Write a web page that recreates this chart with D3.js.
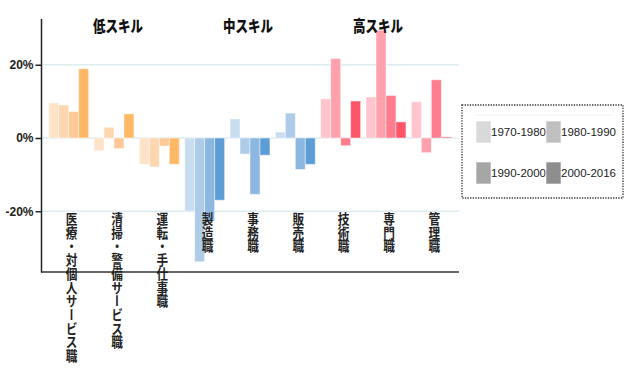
<!DOCTYPE html>
<html>
<head>
<meta charset="utf-8">
<script src="https://cdn.jsdelivr.net/npm/d3@7"></script>
<style>
  body { margin: 0; background: #fff; }
  svg { display: block; font-family: "Noto Sans CJK JP", "Noto Sans", sans-serif; }
  .ytick text { font-size: 12px; font-weight: bold; fill: #222; }
</style>
</head>
<body>
<div id="chart"></div>
<script>
// Employment share change by occupation and period (%)
const categories = ["医療・対個人サービス職", "清掃・警備サービス職", "運転・手仕事職",
  "製造職", "事務職", "販売職", "技術職", "専門職", "管理職"];
const skillOf = ["low", "low", "low", "mid", "mid", "mid", "high", "high", "high"];
const skillTitles = [
  { key: "low", label: "低スキル", nudge: 4 },
  { key: "mid", label: "中スキル", nudge: -2 },
  { key: "high", label: "高スキル", nudge: -8 }
];
const periods = ["1970-1980", "1980-1990", "1990-2000", "2000-2016"];
const v1970 = [9.6, -3.5, -7.2, -20.0, 5.2, 1.6, 10.7, 11.2, 9.9];
const v1980 = [9.0, 2.9, -7.9, -33.8, -4.4, 6.8, 21.7, 29.4, -4.0];
const v1990 = [7.2, -2.9, -2.2, -22.7, -15.4, -8.6, -2.1, 11.6, 15.9];
const v2000 = [18.9, 6.6, -7.2, -17.0, -4.7, -7.2, 10.1, 4.4, 0.3];
const yTicks = [20, 0, -20];

const series = [v1970, v1980, v1990, v2000];
const palette = {
  low: ["#fee3c9", "#fed6af", "#fec897", "#ffb966"],
  mid: ["#c9ddf0", "#aecbe8", "#8cb7e0", "#5d9dd6"],
  high: ["#ffc4cc", "#ffa1ac", "#ff7d8c", "#ff5568"]
};
const legendGrays = ["#d9d9d9", "#c0c0c0", "#a6a6a6", "#8e8e8e"];

const W = 635, H = 377;
const svg = d3.select("#chart").append("svg").attr("width", W).attr("height", H);

const x = d3.scaleBand().domain(categories).range([46, 454]).paddingInner(0.12).paddingOuter(0.06);
const xs = d3.scaleBand().domain(periods).range([0, x.bandwidth()]);
const y = d3.scaleLinear().domain([-36.6, 32.5]).range([272, 19]);

// gridlines
svg.append("g").selectAll("line").data(yTicks).join("line")
  .attr("x1", 42).attr("x2", 459)
  .attr("y1", d => y(d)).attr("y2", d => y(d))
  .attr("stroke", "#dcecf0").attr("stroke-width", 1.5);

// bars
const rows = categories.map((c, i) => ({ c, i, vals: series.map(s => s[i]) }));
const g = svg.append("g").selectAll("g").data(rows).join("g")
  .attr("transform", d => `translate(${x(d.c)},0)`);
g.selectAll("rect").data(d => d.vals.map((v, k) => ({ v, k, skill: skillOf[d.i] }))).join("rect")
  .attr("x", d => xs(periods[d.k]))
  .attr("width", xs.bandwidth())
  .attr("y", d => y(Math.max(0, d.v)))
  .attr("height", d => Math.abs(y(d.v) - y(0)))
  .attr("fill", d => palette[d.skill][d.k])
  .attr("stroke", "rgba(255,255,255,0.45)").attr("stroke-width", 1);

// axes
svg.append("line").attr("x1", 41.5).attr("x2", 41.5).attr("y1", 19).attr("y2", 272.5)
  .attr("stroke", "#222").attr("stroke-width", 1.5);
svg.append("line").attr("x1", 41).attr("x2", 459).attr("y1", 272).attr("y2", 272)
  .attr("stroke", "#333").attr("stroke-width", 1.5);

const yAxis = svg.append("g").attr("class", "ytick").attr("transform", "translate(41.5,0)")
  .call(d3.axisLeft(y).tickValues(yTicks).tickFormat(d => d + "%").tickSize(6).tickPadding(2));
yAxis.select(".domain").remove();
yAxis.selectAll(".tick line").attr("stroke", "#222").attr("stroke-width", 1.5);

// category labels, written vertically
svg.append("g").selectAll("text").data(categories).join("text")
  .attr("transform", d => `translate(${x(d) + x.bandwidth() / 2 + 3},212) scale(0.85,1)`)
  .attr("x", 0).attr("y", 0)
  .style("writing-mode", "vertical-rl")
  .style("text-orientation", "upright")
  .attr("font-size", 13.7).attr("font-weight", "bold").attr("fill", "#222")
  .text(d => d);

// skill titles
svg.append("g").selectAll("text").data(skillTitles).join("text")
  .attr("transform", d => {
    const idx = skillOf.indexOf(d.key) + 1;
    return `translate(${x(categories[idx]) + x.bandwidth() / 2 + d.nudge},32) scale(0.78,1)`;
  })
  .attr("text-anchor", "middle")
  .attr("font-size", 16).attr("font-weight", "900").attr("fill", "#111")
  .text(d => d.label);

// legend
const lg = svg.append("g");
lg.append("rect").attr("x", 462).attr("y", 105).attr("width", 161).attr("height", 93)
  .attr("fill", "none").attr("stroke", "#333").attr("stroke-width", 1.3).attr("stroke-dasharray", "1.3,1.3");
lg.append("line").attr("x1", 474).attr("x2", 614).attr("y1", 115).attr("y2", 115)
  .attr("stroke", "#f2f2f2");
const items = lg.selectAll("g").data(periods).join("g")
  .attr("transform", (d, i) => `translate(${i % 2 ? 546 : 476},${i < 2 ? 121 : 162})`);
items.append("rect").attr("width", 15).attr("height", 22)
  .attr("fill", (d, i) => legendGrays[i]).attr("stroke", "rgba(255,255,255,0.6)");
items.append("text").attr("x", 15).attr("y", 15)
  .attr("font-family", "'Liberation Sans Narrow', 'Liberation Sans', sans-serif")
  .attr("font-size", 11.5).attr("fill", "#222")
  .text(d => d);
</script>
</body>
</html>
